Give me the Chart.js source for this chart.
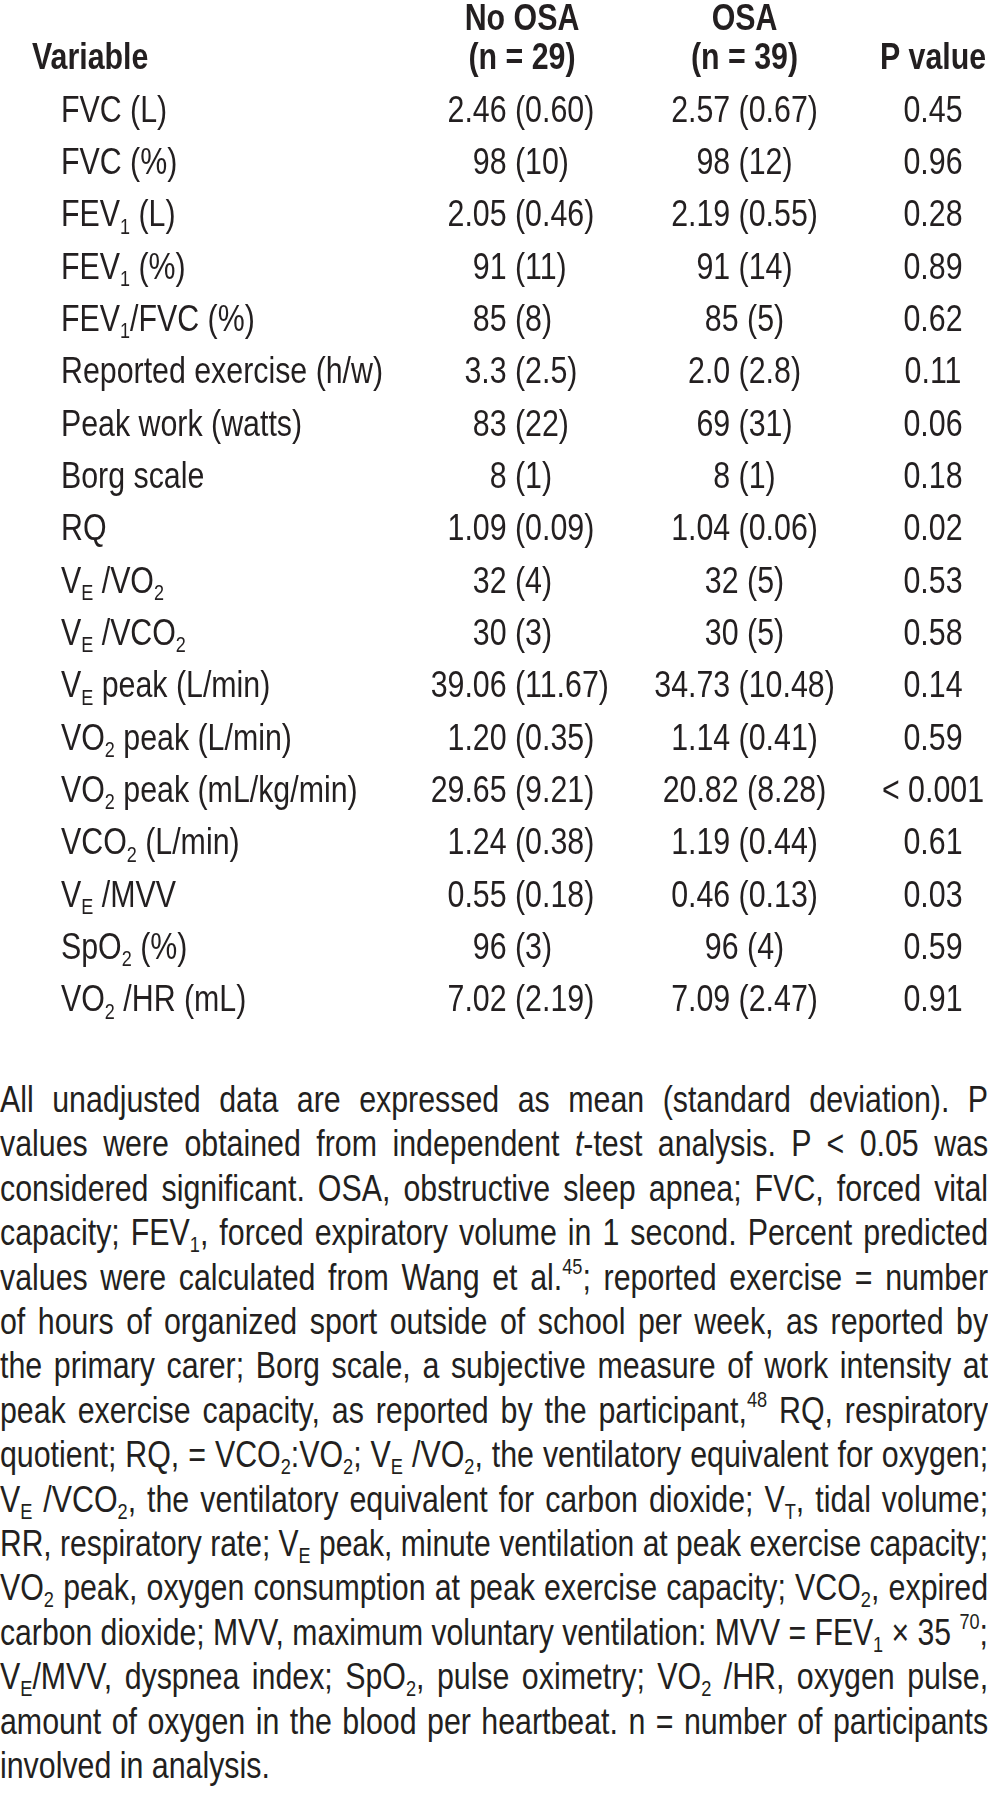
<!DOCTYPE html>
<html>
<head>
<meta charset="utf-8">
<script src="https://cdn.jsdelivr.net/npm/chart.js@4.4.0/dist/chart.umd.min.js"></script>
<style>
  html, body { margin: 0; padding: 0; background: #fff; }
  #wrap { position: relative; width: 988px; height: 1797px; overflow: hidden; }
  #table { position: absolute; left: 0; top: 0; }
  #note {
    position: absolute; left: 0; top: 1078px; width: 988px;
    font-family: "Liberation Sans", Arial, sans-serif;
    font-size: 37px; line-height: 44.4px; color: #231f20;
  }
  /* the source face is a condensed sans, so squeeze each line */
  #note div {
    width: 1205px; text-align: justify; text-align-last: justify;
    white-space: nowrap; transform-origin: 0 0; transform: scaleX(0.82);
  }
  #note div.last { text-align-last: left; }
  #note sub, #note sup { font-size: 0.6em; line-height: 0; }
  #note sub { vertical-align: -0.3em; }
  #note sup { vertical-align: 0.7em; }
</style>
</head>
<body>
<div id="wrap">
  <canvas id="table" width="988" height="1045"></canvas>
  <div id="note">
    <div>All unadjusted data are expressed as mean (standard deviation). P</div>
    <div>values were obtained from independent <i>t</i>-test analysis. P &lt; 0.05 was</div>
    <div>considered significant. OSA, obstructive sleep apnea; FVC, forced vital</div>
    <div>capacity; FEV<sub>1</sub>, forced expiratory volume in 1 second. Percent predicted</div>
    <div>values were calculated from Wang et al.<sup>45</sup>; reported exercise = number</div>
    <div>of hours of organized sport outside of school per week, as reported by</div>
    <div>the primary carer; Borg scale, a subjective measure of work intensity at</div>
    <div>peak exercise capacity, as reported by the participant,<sup>48</sup> RQ, respiratory</div>
    <div>quotient; RQ, = VCO<sub>2</sub>:VO<sub>2</sub>; V<sub>E</sub> /VO<sub>2</sub>, the ventilatory equivalent for oxygen;</div>
    <div>V<sub>E</sub> /VCO<sub>2</sub>, the ventilatory equivalent for carbon dioxide; V<sub>T</sub>, tidal volume;</div>
    <div>RR, respiratory rate; V<sub>E</sub> peak, minute ventilation at peak exercise capacity;</div>
    <div>VO<sub>2</sub> peak, oxygen consumption at peak exercise capacity; VCO<sub>2</sub>, expired</div>
    <div>carbon dioxide; MVV, maximum voluntary ventilation: MVV = FEV<sub>1</sub> × 35 <sup>70</sup>;</div>
    <div>V<sub>E</sub>/MVV, dyspnea index; SpO<sub>2</sub>, pulse oximetry; VO<sub>2</sub> /HR, oxygen pulse,</div>
    <div>amount of oxygen in the blood per heartbeat. n = number of participants</div>
    <div class="last">involved in analysis.</div>
  </div>
</div>
<script>
// table data
const columns = ['No OSA', 'OSA', 'P value'];
const columnHeads = [['No OSA', '(n = 29)'], ['OSA', '(n = 39)'], ['', 'P value']];
// row labels, _{..} marks a subscript
const rowLabels = [
  'FVC (L)', 'FVC (%)', 'FEV_{1} (L)', 'FEV_{1} (%)', 'FEV_{1}/FVC (%)',
  'Reported exercise (h/w)', 'Peak work (watts)', 'Borg scale', 'RQ',
  'V_{E} /VO_{2}', 'V_{E} /VCO_{2}', 'V_{E} peak (L/min)', 'VO_{2} peak (L/min)',
  'VO_{2} peak (mL/kg/min)', 'VCO_{2} (L/min)', 'V_{E} /MVV', 'SpO_{2} (%)', 'VO_{2} /HR (mL)'
];
const noOsaMean = [2.46, 98, 2.05, 91, 85, 3.3, 83, 8, 1.09, 32, 30, 39.06, 1.20, 29.65, 1.24, 0.55, 96, 7.02];
const noOsaSD   = [0.60, 10, 0.46, 11, 8, 2.5, 22, 1, 0.09, 4, 3, 11.67, 0.35, 9.21, 0.38, 0.18, 3, 2.19];
const osaMean   = [2.57, 98, 2.19, 91, 85, 2.0, 69, 8, 1.04, 32, 30, 34.73, 1.14, 20.82, 1.19, 0.46, 96, 7.09];
const osaSD     = [0.67, 12, 0.55, 14, 5, 2.8, 31, 1, 0.06, 5, 5, 10.48, 0.41, 8.28, 0.44, 0.13, 4, 2.47];
const pValues   = ['0.45', '0.96', '0.28', '0.89', '0.62', '0.11', '0.06', '0.18', '0.02', '0.53',
                   '0.58', '0.14', '0.59', '< 0.001', '0.61', '0.03', '0.59', '0.91'];
const decimals  = [2, 0, 2, 0, 0, 1, 0, 0, 2, 0, 0, 2, 2, 2, 2, 2, 0, 2];

const FONT = '"Liberation Sans", Arial, sans-serif';
const SQUEEZE = 0.82; // horizontal scale to get a narrow face
const rowKeys = rowLabels.map(l => l.replace(/_\{([^}]*)\}/g, '$1'));

function fmt(mean, sd, d) {
  return mean.toFixed(d) + ' (' + sd.toFixed(d) + ')';
}

function cells(c) {
  return rowKeys.map((key, i) => {
    let text;
    if (c === 0) text = fmt(noOsaMean[i], noOsaSD[i], decimals[i]);
    else if (c === 1) text = fmt(osaMean[i], osaSD[i], decimals[i]);
    else text = pValues[i];
    return { x: columns[c], y: key, text: text };
  });
}

function narrowText(ctx, text, x, y, align) {
  ctx.save();
  ctx.translate(x, y);
  ctx.scale(SQUEEZE, 1);
  ctx.textAlign = align;
  ctx.fillText(text, 0, 0);
  ctx.restore();
}

// draws text with _{..} subscripts
function drawRich(ctx, str, x, y, size) {
  const parts = str.split(/(_\{[^}]*\})/).filter(s => s.length);
  parts.forEach(p => {
    let t = p, dy = 0;
    if (p.startsWith('_{')) {
      t = p.slice(2, -1);
      ctx.font = Math.round(size * 0.6) + 'px ' + FONT;
      dy = size * 0.2;
    } else {
      ctx.font = size + 'px ' + FONT;
    }
    narrowText(ctx, t, x, y + dy, 'left');
    x += ctx.measureText(t).width * SQUEEZE;
  });
}

const tableText = {
  id: 'tableText',
  afterDatasetsDraw(chart, args, o) {
    const ctx = chart.ctx;
    const xs = chart.scales.x, ys = chart.scales.y;
    ctx.save();
    ctx.fillStyle = o.color;
    ctx.textBaseline = 'alphabetic';

    ctx.font = 'bold ' + o.size + 'px ' + FONT;
    narrowText(ctx, 'Variable', o.headLeft, o.head2, 'left');
    columnHeads.forEach((h, c) => {
      const px = xs.getPixelForValue(c) + o.headNudge[c];
      narrowText(ctx, h[0], px, o.head1, 'center');
      narrowText(ctx, h[1], px, o.head2, 'center');
    });

    rowLabels.forEach((lab, i) => {
      drawRich(ctx, lab, o.labelLeft, ys.getPixelForValue(i) + o.shift, o.size);
    });

    ctx.font = o.size + 'px ' + FONT;
    chart.data.datasets.forEach((ds, c) => {
      chart.getDatasetMeta(c).data.forEach((pt, i) => {
        const t = ds.data[i].text;
        const px = pt.x + o.nudge[c];
        if (o.anchor[c] === 'paren') {
          // line the cells up on the opening bracket
          const before = ctx.measureText(t.slice(0, t.indexOf('('))).width * SQUEEZE;
          narrowText(ctx, t, px - before, pt.y + o.shift, 'left');
        } else {
          narrowText(ctx, t, px, pt.y + o.shift, 'center');
        }
      });
    });
    ctx.restore();
  }
};

new Chart(document.getElementById('table'), {
  type: 'scatter',
  data: {
    datasets: columns.map((name, c) => ({
      label: name,
      data: cells(c),
      pointRadius: 0,
      pointHoverRadius: 0
    }))
  },
  options: {
    responsive: false,
    animation: false,
    devicePixelRatio: 1,
    events: [],
    layout: { padding: { left: 526, right: 49, top: 82, bottom: 21 } },
    scales: {
      x: { type: 'category', labels: columns, offset: false, display: false },
      y: { type: 'category', labels: rowKeys, offset: true, display: false }
    },
    plugins: {
      legend: { display: false },
      tooltip: { enabled: false },
      tableText: {
        color: '#231f20', size: 37,
        headLeft: 32, labelLeft: 61,
        head1: 30, head2: 69,
        shift: 13.5,
        headNudge: [-4, 12, -6],
        nudge: [-11, 12, -6],
        anchor: ['paren', 'center', 'center']
      }
    }
  },
  plugins: [tableText]
});

// if a footnote line is wider than the block, squeeze it a bit more
document.querySelectorAll('#note div').forEach(div => {
  div.style.textAlign = 'left';
  div.style.textAlignLast = 'left';
  const r = document.createRange();
  r.selectNodeContents(div);
  const natural = r.getBoundingClientRect().width / SQUEEZE;
  div.style.textAlign = '';
  div.style.textAlignLast = '';
  const full = 988 / SQUEEZE;
  if (natural > full) {
    div.style.width = natural + 'px';
    div.style.transform = 'scaleX(' + (988 / natural) + ')';
  }
});
</script>
</body>
</html>
